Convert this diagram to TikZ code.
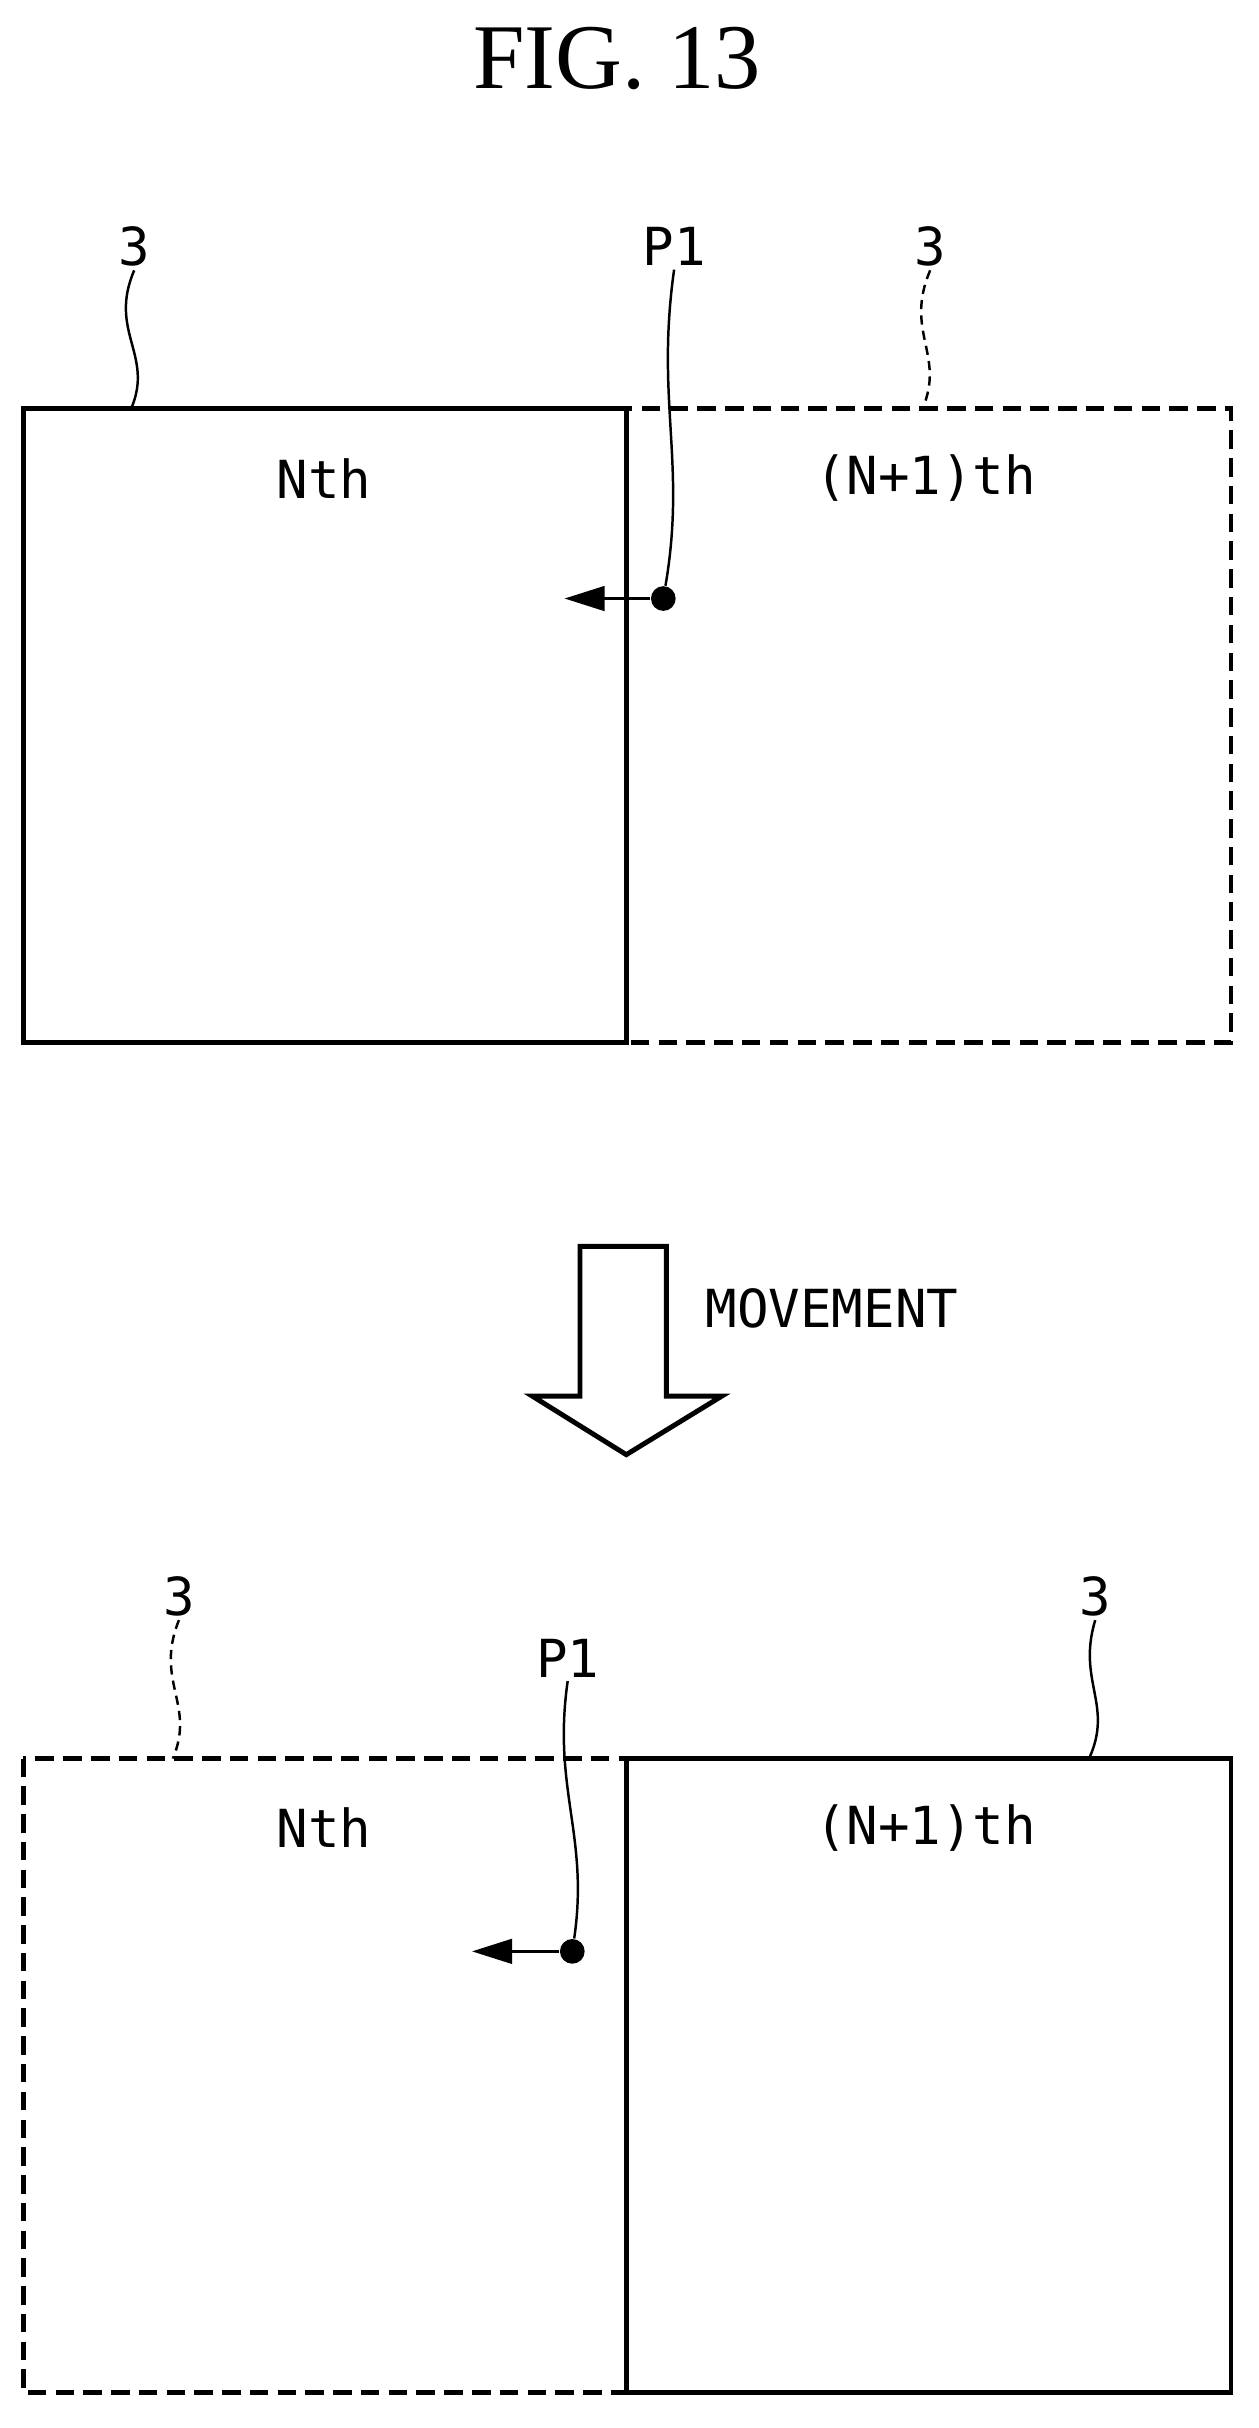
\documentclass[tikz,border=0pt]{standalone}
\usepackage{fontspec}
\setmainfont{Liberation Serif}
\newfontfamily\lblfont{DejaVu Sans Mono}
\usetikzlibrary{arrows.meta}
\begin{document}
\begin{tikzpicture}[x=0.5pt,y=-0.5pt,
  box/.style={line width=1.6pt},
  dbox/.style={line width=1.6pt,dash pattern=on 6pt off 3pt},
  lead/.style={line width=0.8pt},
  dlead/.style={line width=0.8pt,dash pattern=on 3pt off 2pt},
  lbl/.style={font=\lblfont\fontsize{17}{17}\selectfont,inner sep=1pt},
  num/.style={font=\lblfont\fontsize{17}{17}\selectfont,inner sep=1pt},
  pt/.style={circle,fill,inner sep=0pt,minimum size=8pt},
  arr/.style={line width=0.9pt,-{Triangle[length=13pt,width=8pt]}}]
\useasboundingbox (0,0) rectangle (816,1574);
\node[font=\fontsize{30}{30}\selectfont] (title) at (400,38) {FIG. 13};
% top
\draw[box] (15,265) rectangle (406,676);
\draw[dbox] (406,265) rectangle (798,676);
\node[lbl] (n1) at (210,310) {Nth};
\node[lbl] (m1) at (600,310) {(N+1)th};
\node[num] (t3a) at (87,160) {3};
\node[num] (t3b) at (603,160) {3};
\coordinate (e3a) at (85,265);
\coordinate (e3b) at (598,265);
\draw[lead] (t3a.south) .. controls (70,215) and (100,230) .. (e3a);
\draw[dlead] (t3b.south) .. controls (586,215) and (613,230) .. (e3b);
\node[num] (p1a) at (437,160) {P1};
\node[pt] (d1) at (430,388) {};
\coordinate (a1) at (366,388);
\draw[lead] (p1a.south) .. controls (425,260) and (445,300) .. (d1);
\draw[arr] (d1) -- (a1);
% big arrow
\draw[line width=1.6pt] (376,808) -- (432,808) -- (432,905) -- (468,905) -- (406,943) -- (345,905) -- (376,905) -- cycle;
\node[lbl,anchor=west] (mv) at (455,848) {MOVEMENT};
% bottom
\draw[dbox] (15,1140) rectangle (406,1551);
\draw[box] (406,1140) rectangle (798,1551);
\node[lbl] (n2) at (210,1185) {Nth};
\node[lbl] (m2) at (600,1185) {(N+1)th};
\node[num] (t3c) at (116,1035) {3};
\node[num] (t3d) at (710,1035) {3};
\coordinate (e3c) at (112,1140);
\coordinate (e3d) at (706,1140);
\draw[dlead] (t3c.south) .. controls (100,1090) and (127,1105) .. (e3c);
\draw[lead] (t3d.south) .. controls (698,1090) and (722,1105) .. (e3d);
\node[num] (p1b) at (368,1075) {P1};
\node[pt] (d2) at (371,1265) {};
\coordinate (a2) at (306,1265);
\draw[lead] (p1b.south) .. controls (358,1160) and (382,1190) .. (d2);
\draw[arr] (d2) -- (a2);
\end{tikzpicture}
\end{document}
